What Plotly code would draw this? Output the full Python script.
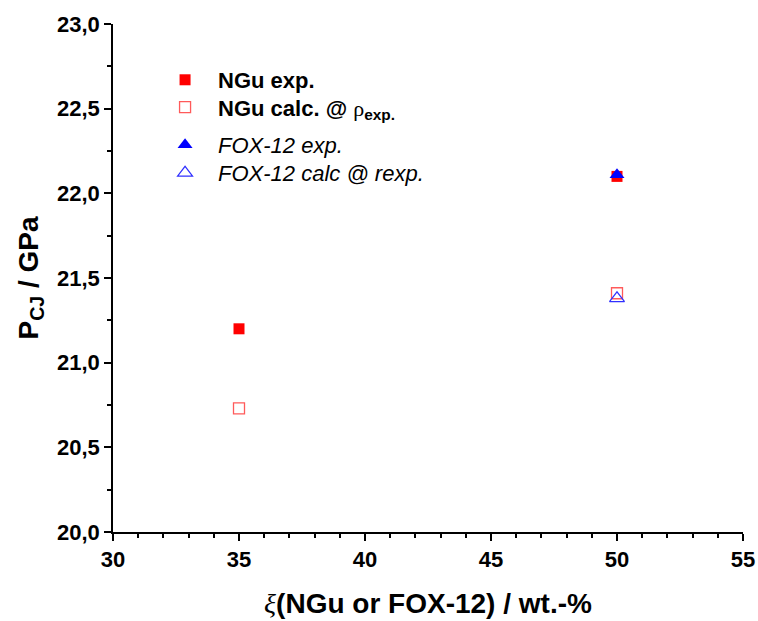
import plotly.graph_objects as go

ngu_x = [35, 50]
ngu_exp = [21.20, 22.10]
ngu_calc = [20.73, 21.41]
fox_x = [50]
fox_exp = [22.11]
fox_calc = [21.38]

x_ticks = [30, 35, 40, 45, 50, 55]
y_ticks = [20.0, 20.5, 21.0, 21.5, 22.0, 22.5, 23.0]

x_ticktext = ["<b>%d</b>" % v for v in x_ticks]
y_ticktext = ["<b>" + ("%.1f" % v).replace(".", ",") + "</b>" for v in y_ticks]

fig = go.Figure()
fig.add_trace(go.Scatter(x=ngu_x, y=ngu_exp, mode="markers", name="<b>NGu exp.</b>",
                         legend="legend",
                         marker=dict(symbol="square", size=11, color="red")))
fig.add_trace(go.Scatter(x=ngu_x, y=ngu_calc, mode="markers",
                         name="<b>NGu calc. @ </b><span style='font-family:Liberation Serif'>ρ</span><b><sub>exp.</sub></b>",
                         legend="legend2",
                         marker=dict(symbol="square-open", size=11, color="#ff5a5a",
                                     line=dict(width=1.3))))
fig.add_trace(go.Scatter(x=fox_x, y=fox_exp, mode="markers", name="<i>FOX-12 exp.</i>",
                         legend="legend3",
                         marker=dict(symbol="triangle-up", size=13, color="blue")))
fig.add_trace(go.Scatter(x=fox_x, y=fox_calc, mode="markers", name="<i>FOX-12 calc @ rexp.</i>",
                         legend="legend4",
                         marker=dict(symbol="triangle-up-open", size=13, color="#3030ff",
                                     line=dict(width=1.2))))

tickfont = dict(family="Liberation Sans", size=22, color="black", weight="bold")
axis_common = dict(showline=True, linecolor="black", linewidth=1.5, ticks="outside",
                   ticklen=7, tickwidth=1.5, tickcolor="black", showgrid=False,
                   zeroline=False, mirror=False, automargin=False)

def leg(yc):
    return dict(x=0.062, y=yc, xanchor="left", yanchor="middle", bgcolor="rgba(0,0,0,0)",
                font=dict(size=22, color="black"), itemwidth=56)

fig.update_layout(
    width=758, height=621,
    margin=dict(l=113, r=15, t=24, b=89),
    plot_bgcolor="white", paper_bgcolor="white",
    font=dict(family="Liberation Sans", color="black"),
    xaxis=dict(range=[30, 55], tickvals=x_ticks, ticktext=x_ticktext, tickfont=tickfont,
               minor=dict(dtick=1, ticks="outside", ticklen=4, tickwidth=1.5, tickcolor="black"),
               title=dict(text="<i style='font-family:Liberation Serif'>ξ</i><b>(NGu or FOX-12) / wt.-%</b>",
                          font=dict(size=28, color="black"), standoff=22),
               **axis_common),
    yaxis=dict(range=[20, 23], tickvals=y_ticks, ticktext=y_ticktext, tickfont=tickfont,
               minor=dict(dtick=0.25, ticks="outside", ticklen=4, tickwidth=1.5, tickcolor="black"),
               title=dict(text="<b>P<sub>CJ</sub> / GPa</b>", font=dict(size=28, color="black"),
                          standoff=10),
               **axis_common),
    legend=leg(0.8898),
    legend2=leg(0.8360),
    legend3=leg(0.7618),
    legend4=leg(0.7067),
    showlegend=True,
)

fig.write_html("out.html")
